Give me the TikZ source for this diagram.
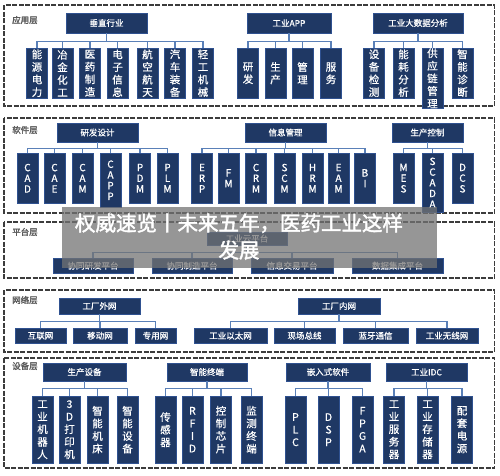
\documentclass[tikz,border=0pt]{standalone}
\usepackage{fontspec}
\newfontfamily\cjk{Noto Sans CJK SC}[AutoFakeBold=2]
\newfontfamily\cjkm{Noto Sans CJK SC}[FakeBold=0.6]
\definecolor{navy}{HTML}{1F3864}
\definecolor{edgeblue}{HTML}{2F5190}
\definecolor{linkblue}{HTML}{5A80B8}
\definecolor{framegray}{HTML}{3C3C3C}
\definecolor{labelgray}{HTML}{5A5A5A}

\begin{document}
\begin{tikzpicture}[x=1pt, y=-1pt,
  panel/.style={draw=framegray, line width=1.3pt, dash pattern=on 5pt off 1.5pt},
  layer/.style={text=labelgray, font=\cjk\fontsize{8.5}{9}\selectfont\bfseries, anchor=west, inner sep=0pt},
  head/.style={fill=navy, draw=edgeblue, text=white, inner sep=0pt, font=\cjkm\fontsize{8.5}{9}\selectfont},
  kid/.style={fill=navy, draw=edgeblue, text=white, inner sep=0pt, anchor=north, align=center,
    minimum width=21pt, minimum height=50pt, font=\cjkm\fontsize{10.5}{12.6}\selectfont},
  kidl/.style={kid, font=\cjkm\fontsize{10}{10.7}\selectfont},
  bar/.style={fill=navy, draw=edgeblue, text=white, inner sep=0pt, anchor=north,
    minimum height=15pt, font=\cjkm\fontsize{8.5}{9}\selectfont},
  link/.style={draw=linkblue, line width=1.3pt},
  bannerbox/.style={fill=black!55, fill opacity=.75, draw=none, inner sep=0pt},
  bannertext/.style={text=white, align=center, font=\cjk\fontsize{20.5}{27}\selectfont\bfseries}]
  \useasboundingbox[fill=white] (0,0) rectangle (500,475);

  \foreach \tp/\bt in {5/106, 118/213, 222/278, 290/352, 358/468}
    \draw[panel] (4,\tp) rectangle (494.5,\bt);
  \foreach \y/\lbl/\n in {20/应用层/lapp, 130/软件层/lsw, 232/平台层/lpf, 300/网络层/lnet, 366/设备层/ldev}
    \node[layer] (\n) at (12,\y) {\lbl};

  % application layer
  \node[head, minimum width=81pt, minimum height=20pt] (hy) at (106.5,23) {垂直行业};
  \node[head, minimum width=84pt, minimum height=20pt] (ha) at (289,23) {工业APP};
  \node[head, minimum width=90pt, minimum height=20pt] (hd) at (418,23) {工业大数据分析};
  \foreach \x/\lbl [count=\i] in {37/能\\源\\电\\力, 62.5/冶\\金\\化\\工, 90/医\\药\\制\\造,
      117.5/电\\子\\信\\息, 147.5/航\\空\\航\\天, 175/汽\\车\\装\\备, 203/轻\\工\\机\\械} {
    \node[kid] (y\i) at (\x,48) {\lbl};
    \draw[link] (hy.south) -- ++(0,8) -| (y\i.north);
  }
  \foreach \x/\lbl [count=\i] in {248/研\\发, 275.5/生\\产, 302.5/管\\理, 331/服\\务} {
    \node[kid] (a\i) at (\x,48) {\lbl};
    \draw[link] (ha.south) -- ++(0,8) -| (a\i.north);
  }
  \foreach \x/\h/\lbl [count=\i] in {374/50/设\\备\\检\\测, 403.5/50/能\\耗\\分\\析,
      432.5/60/供\\应\\链\\管\\理, 462.5/50/智\\能\\诊\\断} {
    \node[kid, minimum height=\h pt] (d\i) at (\x,48) {\lbl};
    \draw[link] (hd.south) -- ++(0,8) -| (d\i.north);
  }

  % software layer
  \node[head, minimum width=81pt, minimum height=19pt] (hr) at (97.5,132.5) {研发设计};
  \node[head, minimum width=81pt, minimum height=19pt] (hx) at (285.5,132.5) {信息管理};
  \node[head, minimum width=71pt, minimum height=19pt] (hs) at (427.5,132.5) {生产控制};
  \foreach \x/\h/\lbl [count=\i] in {27.5/50/C\\A\\D, 54.5/50/C\\A\\E, 82.5/50/C\\A\\M,
      110.5/54/C\\A\\P\\P, 140/50/P\\D\\M, 167.5/50/P\\L\\M} {
    \node[kidl, minimum height=\h pt] (r\i) at (\x,153) {\lbl};
    \draw[link] (hr.south) -- ++(0,6) -| (r\i.north);
  }
  \foreach \x/\lbl [count=\i] in {202/E\\R\\P, 228.5/F\\M, 256/C\\R\\M, 284.5/S\\C\\M,
      312.5/H\\R\\M, 338.5/E\\A\\M, 365/B\\I} {
    \node[kidl] (x\i) at (\x,153) {\lbl};
    \draw[link] (hx.south) -- ++(0,6) -| (x\i.north);
  }
  \foreach \x/\h/\lbl [count=\i] in {403.5/50/M\\E\\S, 432.5/59/S\\C\\A\\D\\A, 462.5/50/D\\C\\S} {
    \node[kidl, minimum height=\h pt] (s\i) at (\x,153) {\lbl};
    \draw[link] (hs.south) -- ++(0,6) -| (s\i.north);
  }

  % platform layer
  \node[head, minimum width=80pt, minimum height=13pt] (hp) at (247,238.5) {工业云平台};
  \foreach \x/\w/\lbl [count=\i] in {93/80/协同研发平台, 192/80/协同制造平台,
      292/82/信息交易平台, 397.5/91/数据集成平台} {
    \node[bar, minimum width=\w pt] (p\i) at (\x,258) {\lbl};
    \draw[link] (hp.south) -- ++(0,7) -| (p\i.north);
  }

  % network layer
  \node[head, minimum width=81pt, minimum height=16pt] (hw) at (99.5,306) {工厂外网};
  \node[head, minimum width=82pt, minimum height=16pt] (hn) at (339,306) {工厂内网};
  \foreach \x/\w/\lbl [count=\i] in {40.5/51/互联网, 100/54/移动网, 155.5/41/专用网} {
    \node[bar, minimum width=\w pt] (w\i) at (\x,328) {\lbl};
    \draw[link] (hw.south) -- ++(0,7) -| (w\i.north);
  }
  \foreach \x/\w/\lbl [count=\i] in {230.5/73/工业以太网, 304.5/61/现场总线,
      375.5/65/蓝牙通信, 447/62/工业无线网} {
    \node[bar, minimum width=\w pt] (n\i) at (\x,328) {\lbl};
    \draw[link] (hn.south) -- ++(0,7) -| (n\i.north);
  }

  % device layer
  \node[head, minimum width=83pt, minimum height=18pt] (he) at (84.5,372) {生产设备};
  \node[head, minimum width=80pt, minimum height=18pt] (ht) at (207,372) {智能终端};
  \node[head, minimum width=84pt, minimum height=18pt] (hm) at (328,372) {嵌入式软件};
  \node[head, minimum width=81pt, minimum height=18pt] (hc) at (426.5,372) {工业IDC};
  \foreach \x/\lbl [count=\i] in {42.5/工\\业\\机\\器\\人, 69.5/3\\D\\打\\印\\机,
      97.5/智\\能\\机\\床, 127.5/智\\能\\设\\备} {
    \node[kid, minimum height=67pt] (e\i) at (\x,396) {\lbl};
    \draw[link] (he.south) -- ++(0,7) -| (e\i.north);
  }
  \foreach \x/\lbl [count=\i] in {165.5/传\\感\\器, 192.5/R\\F\\I\\D, 221/控\\制\\芯\\片, 251.5/监\\测\\终\\端} {
    \node[kid, minimum height=67pt] (t\i) at (\x,396) {\lbl};
    \draw[link] (ht.south) -- ++(0,7) -| (t\i.north);
  }
  \foreach \x/\lbl [count=\i] in {295.5/P\\L\\C, 328.5/D\\S\\P, 362.5/F\\P\\G\\A} {
    \node[kid, minimum height=67pt] (m\i) at (\x,396) {\lbl};
    \draw[link] (hm.south) -- ++(0,7) -| (m\i.north);
  }
  \foreach \x/\lbl [count=\i] in {394/工\\业\\服\\务\\器, 427.5/工\\业\\存\\储\\器, 462/配\\套\\电\\源} {
    \node[kid, minimum height=67pt] (c\i) at (\x,396) {\lbl};
    \draw[link] (hc.south) -- ++(0,7) -| (c\i.north);
  }

  \node[bannerbox, minimum width=375pt, minimum height=61pt] (bnbox) at (249.5,237.5) {};
  \node[bannertext] (bn) at (239,236.5) {权威速览丨未来五年，医药工业这样\\发展};
\end{tikzpicture}
\end{document}
